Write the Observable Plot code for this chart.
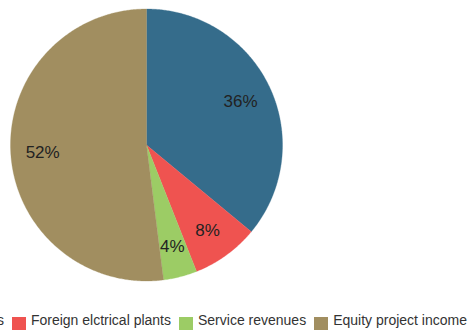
<!DOCTYPE html>
<html>
<head>
<meta charset="utf-8">
<script src="https://cdn.jsdelivr.net/npm/d3@7"></script>
<script src="https://cdn.jsdelivr.net/npm/@observablehq/plot@0.6"></script>
<style>
  html, body { margin: 0; background: #fff; overflow: hidden; font-family: "Liberation Sans", Arial, sans-serif; }
  #chart svg { display: block; }
  #legend { position: relative; width: 470px; height: 22px; overflow: hidden; font-size: 14px; color: #333; }
  #legend .row { position: absolute; right: 3px; top: 0; height: 22px; display: flex; align-items: center; white-space: nowrap; }
  #legend .item { display: flex; align-items: center; margin-left: 8px; flex-shrink: 0; }
  #legend .sw { width: 14px; height: 13px; margin-right: 5px; position: relative; top: 3px; flex-shrink: 0; }
</style>
</head>
<body>
<div id="chart"></div>
<div id="legend"><div class="row"></div></div>
<script>
const categories = ["Domestic electrical plants", "Foreign elctrical plants", "Service revenues", "Equity project income"];
const values = [36, 8, 4, 52];
const colors = ["#356c8b", "#ef5350", "#9ccc65", "#a18e60"];

const total = d3.sum(values);
const arcs = d3.pie().sort(null).value(d => d)(values);

// polygon points for each slice (angle measured clockwise from top)
const pts = [];
arcs.forEach((a, i) => {
  const n = Math.max(2, Math.ceil((a.endAngle - a.startAngle) / (Math.PI / 360)));
  pts.push({cat: categories[i], x: 0, y: 0, k: 0});
  for (let j = 0; j <= n; j++) {
    const t = a.startAngle + (a.endAngle - a.startAngle) * j / n;
    pts.push({cat: categories[i], x: Math.sin(t), y: Math.cos(t), k: j + 1});
  }
  pts.push({cat: categories[i], x: 0, y: 0, k: n + 2});
});

const labels = arcs.map((a, i) => {
  const m = (a.startAngle + a.endAngle) / 2;
  return {cat: categories[i], x: 0.765 * Math.sin(m), y: 0.765 * Math.cos(m), label: Math.round(values[i] / total * 100) + "%"};
});

const chart = Plot.plot({
  width: 470,
  height: 309,
  margin: 0,
  x: {domain: [-1, 1], range: [10, 282], axis: null},
  y: {domain: [-1, 1], range: [280.5, 8.5], axis: null},
  color: {domain: categories, range: colors},
  style: {fontFamily: "Liberation Sans, Arial, sans-serif", background: "#fff"},
  marks: [
    Plot.line(pts, {x: "x", y: "y", z: "cat", fill: "cat", stroke: "cat", strokeWidth: 0.3, curve: "linear-closed"}),
    Plot.text(labels, {x: "x", y: "y", text: "label", fontSize: 17, fill: "#222", textAnchor: "middle", dy: 1})
  ]
});
document.getElementById("chart").appendChild(chart);

const row = document.querySelector("#legend .row");
categories.forEach((c, i) => {
  const it = document.createElement("div");
  it.className = "item";
  const sw = document.createElement("div");
  sw.className = "sw";
  sw.style.background = colors[i];
  const tx = document.createElement("span");
  tx.textContent = c;
  it.appendChild(sw);
  it.appendChild(tx);
  row.appendChild(it);
});
</script>
</body>
</html>
